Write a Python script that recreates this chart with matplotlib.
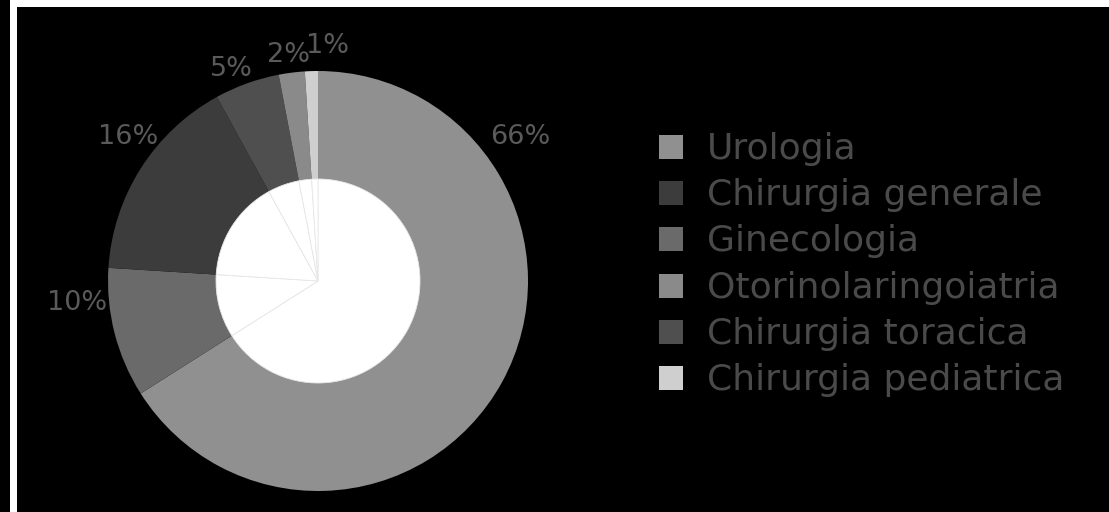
import matplotlib
matplotlib.use("Agg")
import matplotlib.pyplot as plt
from matplotlib.patches import Rectangle

# Reparti chirurgici e quote percentuali (ordine della legenda)
categories = ["Urologia", "Chirurgia generale", "Ginecologia",
              "Otorinolaringoiatria", "Chirurgia toracica", "Chirurgia pediatrica"]
shares = [66, 16, 10, 2, 5, 1]
colors = ["#8f908f", "#3c3c3c", "#6a6a6a", "#8a8a8a", "#4f4f4f", "#cfcfcf"]

# ordine in cui gli spicchi sono disposti in senso orario dall'alto
slice_order = [0, 2, 1, 4, 3, 5]

W, H = 1109, 512
fig = plt.figure(figsize=(W / 100, H / 100), dpi=100, facecolor="black")

# cornice bianca in alto e a sinistra
fig.patches.append(Rectangle((10 / W, 0), 7 / W, 1, transform=fig.transFigure,
                             facecolor="white", edgecolor="none", zorder=0))
fig.patches.append(Rectangle((16 / W, 1 - 7 / H), 1 - 16 / W, 7 / H,
                             transform=fig.transFigure, facecolor="white",
                             edgecolor="none", zorder=0))

ax = fig.add_axes([17 / W, 0, 1 - 17 / W, 1 - 7 / H])
ax.set_facecolor("black")

cx, cy = 318, H - 281
vals = [shares[i] for i in slice_order]
cols = [colors[i] for i in slice_order]

ax.pie(vals, colors=cols, startangle=90, counterclock=False, radius=210,
       center=(cx, cy), frame=True, wedgeprops=dict(edgecolor="none"))
# foro centrale bianco con i bordi degli spicchi appena visibili
ax.pie(vals, colors=["white"] * len(vals), startangle=90, counterclock=False,
       radius=102, center=(cx, cy), frame=True,
       wedgeprops=dict(edgecolor="#e8e8e8", linewidth=0.6))
ax.set_xlim(17, W)
ax.set_ylim(0, H - 7)
ax.set_aspect("equal")
ax.axis("off")

# etichette percentuali
label_pos = {0: (520, 137), 1: (128, 137), 2: (77, 303),
             3: (288, 55), 4: (231, 69), 5: (327, 46)}
for i, s in enumerate(shares):
    x, y = label_pos[i]
    ax.text(x, H - y, f"{s}%", color="#5a5a5a", fontsize=19.5,
            ha="center", va="center", family="DejaVu Sans")

# legenda
for k, (name, col) in enumerate(zip(categories, colors)):
    base = 159 + 46.2 * k
    ax.add_patch(Rectangle((659, H - base), 24, 24, facecolor=col,
                           edgecolor="none"))
    ax.text(707, H - base, name, color="#4a4a4a", fontsize=26,
            ha="left", va="baseline", family="DejaVu Sans")

fig.savefig("out.png", dpi=100, facecolor="black")
